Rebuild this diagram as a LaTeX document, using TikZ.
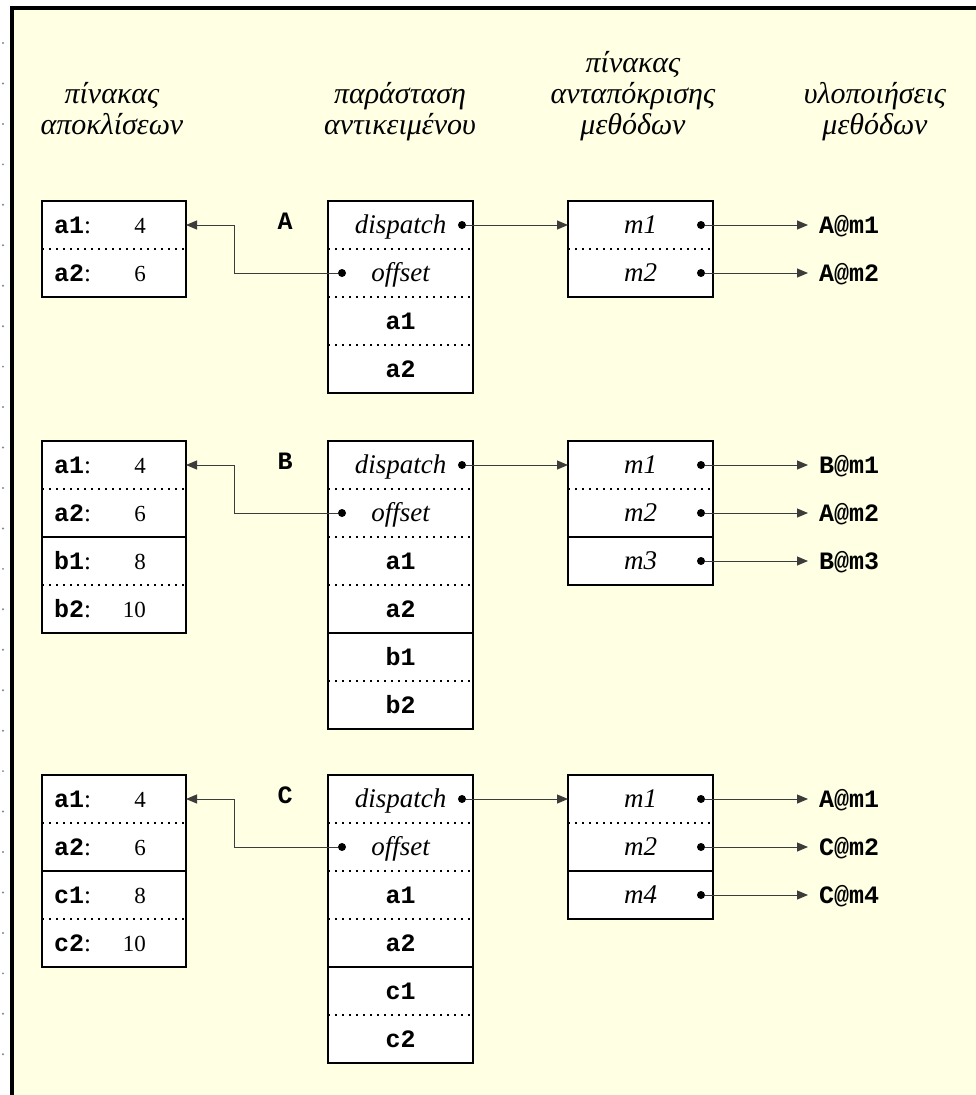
\documentclass[tikz,border=0pt]{standalone}
\usepackage{fontspec}
\setmainfont{Liberation Serif}
\setmonofont{Liberation Mono}
\usetikzlibrary{arrows.meta}
\definecolor{bgyellow}{RGB}{255,255,228}
\definecolor{connc}{RGB}{60,60,60}
\definecolor{dotgray}{RGB}{120,135,145}
\newcommand{\kwd}[1]{{\fontsize{25}{30}\selectfont\ttfamily\bfseries\upshape #1}}
\begin{document}
\begin{tikzpicture}[x=1pt,y=-1pt,
  hdr/.style={anchor=base, inner sep=0pt, font=\fontsize{30}{34}\selectfont\itshape},
  cella/.style={fill=white, minimum width=144pt, minimum height=48pt, inner sep=0pt, outer sep=0pt, anchor=north west},
  cellb/.style={fill=white, minimum width=145pt, minimum height=48pt, inner sep=0pt, outer sep=0pt, anchor=north west, text height=18pt, text depth=2pt, font=\fontsize{27}{32}\selectfont\itshape},
  box/.style={draw=black, line width=1.5pt},
  sepdot/.style={line width=1.5pt, dash pattern=on 1.5pt off 5.5pt},
  sepsol/.style={line width=1.5pt},
  key/.style={anchor=base west, inner sep=0pt, font=\fontsize{25}{30}\selectfont},
  val/.style={anchor=base east, inner sep=0pt, font=\fontsize{23}{27}\selectfont},
  ptr/.style={circle, fill=black, inner sep=0pt, minimum size=8pt},
  conn/.style={draw=connc, line width=1pt, -{Triangle[length=11pt,width=9pt]}},
  meth/.style={anchor=west, inner sep=0pt, text height=18pt, text depth=2pt, font=\fontsize{25}{30}\selectfont\ttfamily\bfseries},
  grp/.style={anchor=base, inner sep=0pt, font=\fontsize{25}{30}\selectfont\ttfamily\bfseries},
]
\useasboundingbox (0,0) rectangle (976,1095);
\fill[white] (0,0) rectangle (976,1095);
\fill[bgyellow] (12,8) rectangle (976,1095);
\fill[black] (10,6) rectangle (976,10);
\fill[black] (10,6) rectangle (14,1095);
\foreach \k in {0,...,25} \fill[dotgray] (3,{43+40.45*\k}) circle (1.1);

% headers
\node[hdr] (h1a) at (112,103) {πίνακας};
\node[hdr] (h1b) at (112,134) {αποκλίσεων};
\node[hdr] (h2a) at (400,103) {παράσταση};
\node[hdr] (h2b) at (400,134) {αντικειμένου};
\node[hdr] (h3a) at (633,72) {πίνακας};
\node[hdr] (h3b) at (633,103) {ανταπόκρισης};
\node[hdr] (h3c) at (633,134) {μεθόδων};
\node[hdr] (h4a) at (875,103) {υλοποιήσεις};
\node[hdr] (h4b) at (875,134) {μεθόδων};

% ---------------- Group A ----------------
\node[grp] (labA) at (285,229) {A};
\foreach \i in {1,2} \node[cella] (A-t\i) at (42,{201+48*(\i-1)}) {};
\foreach \i/\k/\v in {1/a1/4,2/a2/6} {
  \node[key] (A-k\i) at (54,{233+48*(\i-1)}) {\kwd{\k}:};
  \node[val] (A-v\i) at (146,{233+48*(\i-1)}) {\v};
}
\draw[sepdot] (A-t1.south west) -- (A-t1.south east);
\draw[box] (A-t1.north west) rectangle (A-t2.south east);

\foreach \i/\txt in {1/dispatch,2/offset,3/\kwd{a1},4/\kwd{a2}}
  \node[cellb] (A-o\i) at (328,{201+48*(\i-1)}) {\txt};
\foreach \i in {1,2,3} \draw[sepdot] (A-o\i.south west) -- (A-o\i.south east);
\draw[box] (A-o1.north west) rectangle (A-o4.south east);

\foreach \i/\txt in {1/m1,2/m2}
  \node[cellb] (A-m\i) at (568,{201+48*(\i-1)}) {\txt};
\draw[sepdot] (A-m1.south west) -- (A-m1.south east);
\draw[box] (A-m1.north west) rectangle (A-m2.south east);

\node[ptr] (A-pd) at (462,225) {};
\node[ptr] (A-po) at (342,273) {};
\coordinate (A-bend) at (234,273);
\draw[conn] (A-pd) -- (A-pd -| A-m1.west);
\draw[conn] (A-po) -- (A-bend) |- (A-t1.east);
\foreach \i/\n in {1/A@m1,2/A@m2} {
  \node[ptr] (A-pm\i) at (701,{225+48*(\i-1)}) {};
  \node[meth] (A-f\i) at (819,{225+48*(\i-1)}) {\n};
  \draw[conn, shorten >=11pt] (A-pm\i) -- (A-pm\i -| A-f\i.west);
}

% ---------------- Group B ----------------
\node[grp] (labB) at (285,469) {B};
\foreach \i in {1,...,4} \node[cella] (B-t\i) at (42,{441+48*(\i-1)}) {};
\foreach \i/\k/\v in {1/a1/4,2/a2/6,3/b1/8,4/b2/10} {
  \node[key] (B-k\i) at (54,{473+48*(\i-1)}) {\kwd{\k}:};
  \node[val] (B-v\i) at (146,{473+48*(\i-1)}) {\v};
}
\foreach \i in {1,3} \draw[sepdot] (B-t\i.south west) -- (B-t\i.south east);
\draw[sepsol] (B-t2.south west) -- (B-t2.south east);
\draw[box] (B-t1.north west) rectangle (B-t4.south east);

\foreach \i/\txt in {1/dispatch,2/offset,3/\kwd{a1},4/\kwd{a2},5/\kwd{b1},6/\kwd{b2}}
  \node[cellb] (B-o\i) at (328,{441+48*(\i-1)}) {\txt};
\foreach \i in {1,2,3,5} \draw[sepdot] (B-o\i.south west) -- (B-o\i.south east);
\draw[sepsol] (B-o4.south west) -- (B-o4.south east);
\draw[box] (B-o1.north west) rectangle (B-o6.south east);

\foreach \i/\txt in {1/m1,2/m2,3/m3}
  \node[cellb] (B-m\i) at (568,{441+48*(\i-1)}) {\txt};
\draw[sepdot] (B-m1.south west) -- (B-m1.south east);
\draw[sepsol] (B-m2.south west) -- (B-m2.south east);
\draw[box] (B-m1.north west) rectangle (B-m3.south east);

\node[ptr] (B-pd) at (462,465) {};
\node[ptr] (B-po) at (342,513) {};
\coordinate (B-bend) at (234,513);
\draw[conn] (B-pd) -- (B-pd -| B-m1.west);
\draw[conn] (B-po) -- (B-bend) |- (B-t1.east);
\foreach \i/\n in {1/B@m1,2/A@m2,3/B@m3} {
  \node[ptr] (B-pm\i) at (701,{465+48*(\i-1)}) {};
  \node[meth] (B-f\i) at (819,{465+48*(\i-1)}) {\n};
  \draw[conn, shorten >=11pt] (B-pm\i) -- (B-pm\i -| B-f\i.west);
}

% ---------------- Group C ----------------
\node[grp] (labC) at (285,803) {C};
\foreach \i in {1,...,4} \node[cella] (C-t\i) at (42,{775+48*(\i-1)}) {};
\foreach \i/\k/\v in {1/a1/4,2/a2/6,3/c1/8,4/c2/10} {
  \node[key] (C-k\i) at (54,{807+48*(\i-1)}) {\kwd{\k}:};
  \node[val] (C-v\i) at (146,{807+48*(\i-1)}) {\v};
}
\foreach \i in {1,3} \draw[sepdot] (C-t\i.south west) -- (C-t\i.south east);
\draw[sepsol] (C-t2.south west) -- (C-t2.south east);
\draw[box] (C-t1.north west) rectangle (C-t4.south east);

\foreach \i/\txt in {1/dispatch,2/offset,3/\kwd{a1},4/\kwd{a2},5/\kwd{c1},6/\kwd{c2}}
  \node[cellb] (C-o\i) at (328,{775+48*(\i-1)}) {\txt};
\foreach \i in {1,2,3,5} \draw[sepdot] (C-o\i.south west) -- (C-o\i.south east);
\draw[sepsol] (C-o4.south west) -- (C-o4.south east);
\draw[box] (C-o1.north west) rectangle (C-o6.south east);

\foreach \i/\txt in {1/m1,2/m2,3/m4}
  \node[cellb] (C-m\i) at (568,{775+48*(\i-1)}) {\txt};
\draw[sepdot] (C-m1.south west) -- (C-m1.south east);
\draw[sepsol] (C-m2.south west) -- (C-m2.south east);
\draw[box] (C-m1.north west) rectangle (C-m3.south east);

\node[ptr] (C-pd) at (462,799) {};
\node[ptr] (C-po) at (342,847) {};
\coordinate (C-bend) at (234,847);
\draw[conn] (C-pd) -- (C-pd -| C-m1.west);
\draw[conn] (C-po) -- (C-bend) |- (C-t1.east);
\foreach \i/\n in {1/A@m1,2/C@m2,3/C@m4} {
  \node[ptr] (C-pm\i) at (701,{799+48*(\i-1)}) {};
  \node[meth] (C-f\i) at (819,{799+48*(\i-1)}) {\n};
  \draw[conn, shorten >=11pt] (C-pm\i) -- (C-pm\i -| C-f\i.west);
}
\end{tikzpicture}
\end{document}
